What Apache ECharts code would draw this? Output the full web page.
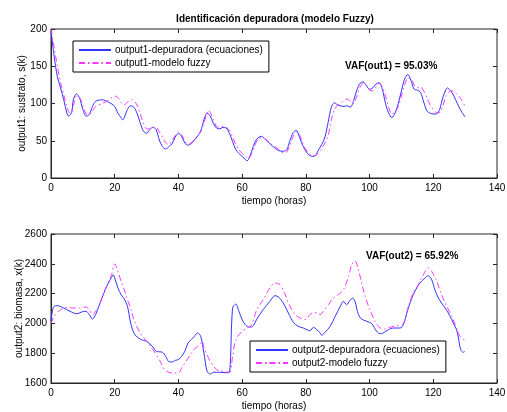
<!DOCTYPE html>
<html>
<head>
<meta charset="utf-8">
<script src="https://cdn.jsdelivr.net/npm/echarts@6/dist/echarts.min.js"></script>
<style>
html,body{margin:0;padding:0;background:#fff;}
#c{width:507px;height:412px;}
</style>
</head>
<body>
<div id="c"></div>
<script>
// ---------- DATA ----------
var title = 'Identificación depuradora (modelo Fuzzy)';
var xName = 'tiempo (horas)';
var y1Name = 'output1: sustrato, s(k)';
var y2Name = 'output2: biomasa, x(k)';
var vaf1 = 'VAF(out1) = 95.03%';
var vaf2 = 'VAF(out2) = 65.92%';
var s1Name = 'output1-depuradora (ecuaciones)';
var s2Name = 'output1-modelo fuzzy';
var s3Name = 'output2-depuradora (ecuaciones)';
var s4Name = 'output2-modelo fuzzy';

var t_s_eq = [0,1,2,3,4,5,5.5,6.5,7,8,9,10,11,12,13,14,16,18,20,21,22,22.5,24,25,26,27,28,29,30,31,32,33,34,35,36,37,38,39,40,41,42,43,44,45,46,47,48,49,50,51,52,53,54,55,56,57,58,59,60,61,61.5,62,63,64,65,66,67,68,69,70,71,72,73,74,75,76,77,78,79,80,81,82,83,84,85,86,87,88,89,90,92,93,94,95,96,97,98,99,100,101,102,103,104,105,106,107,108,109,110,111,112,113,114,115,116,117,118,119,120,121,122,123,124,124.5,125,126,127,128,129,130];
var s_eq = [197,163,136,121,105,87,83,88,105,113,107,92,83,85,96,103,105,102,96,87,81,78,92,97,95,87,74,63,60,65,68,65,51,42,39,42,46,55,60,56,47,44,46,51,56,63,78,87,83,73,67,66,68,67,60,49,38,33,29,25,23,25,36,48,54,56,53,49,45,41,38,36,36,38,50,61,64,55,44,36,31,29,30,38,45,55,75,95,101,98,96,97,95,104,118,127,129,124,119,121,126,128,119,100,87,81,87,100,117,133,139,131,119,118,115,102,90,87,86,86,92,108,119,121,119,114,105,96,88,82];

var t_s_fz = [0,1,2,3,4,5,6,7,8,9,10,11,12,13,14,16,18,20,21,22,23,24,25.5,27,28,29,30,31,32,33,34,35,36,37,38,39,40,41,42,43,44,45,46,47,48,49.5,50,51,52,53,54,55,56,57,58,59,60,61,62,63,64,65,66,67,68,69,70,71,72,73,74,75,76,77,78,79,80,81,82,83,84,85,86,87,88,89,90,91,92,93,94,95,96,97,98,99,100,101,102,103,104,105,106,107,108,109,110,111,112,113,114,115,116,117,118,119,120,121,122,123,124,125,126,127,128,129,130];
var s_fz = [200,175,150,128,112,95,87,97,110,108,97,86,85,90,96,100,104,110,108,101,98,102,105,98,86,74,66,66,68,68,62,55,47,45,50,57,62,58,50,46,47,52,57,62,74,91,88,78,69,68,69,68,64,55,45,38,33,29,26,33,44,52,54,53,50,46,43,40,36,34,35,44,56,62,58,47,38,33,30,30,34,40,47,57,78,92,98,101,104,106,103,100,110,122,127,125,118,117,122,127,122,110,95,86,88,96,110,125,134,133,125,121,122,117,108,98,92,88,88,97,110,116,117,114,110,104,96];

var t_x_eq = [0,0.5,1,2,4,6,8,10,11,12,13,14,15,16,17,18,19,19.5,20,21,22,23,24,25,26,27,28,29,30,32,33,35,36,37,38,39,40,41,42,43,44,45,46,47,48,49,50,51,53,55,56,57,58,59,60,61,62,63,64,64.6,66.6,68.7,70.3,71.4,72.9,74.5,76.1,77.6,79.2,80.8,81.3,82.4,83.4,84.5,85,86,87.6,89.2,90.7,91.8,92.8,93.8,94.7,95.4,96.5,97.5,99.1,100.7,102.2,103.3,104.3,105.9,107.5,109.6,110.6,111.7,112.7,113.7,114.8,115.8,117.4,118.4,119.5,120.5,121.6,122.6,123.7,124.7,125.8,126.8,127.3,127.9,128.6,129.4,129.9];
var x_eq = [2014,2092,2115,2119,2103,2081,2065,2079,2081,2059,2029,2059,2115,2170,2226,2271,2309,2327,2305,2238,2193,2164,2115,2003,1936,1909,1895,1886,1880,1842,1813,1806,1779,1743,1741,1752,1757,1779,1813,1868,1891,1913,1936,1913,1801,1678,1660,1672,1672,1669,1672,2103,2130,2081,2025,1991,1976,1976,2003,2029,2092,2148,2186,2177,2137,2070,2007,1980,1969,1953,1951,1974,1958,1936,1920,1940,1980,2047,2110,2148,2126,2153,2170,2148,2059,2029,2014,1998,1947,1931,1936,1958,1969,1969,1991,2070,2137,2193,2238,2271,2305,2320,2293,2226,2170,2137,2103,2070,2025,1980,1958,1902,1824,1806,1812];

var t_x_fz = [0,1,3,5,7,9,11,12,13,14,15,17,19,20,21,22,23,24,25,26,28,30,32,34,35,36,38,40,41,42,44,45,46,47,47.5,48,49,50,52,54,56,57,58,60,62,63,64.6,66.6,68.7,70.3,71.9,73.5,75,76.6,78.2,79.7,81.3,82.4,83.4,84.5,85.5,87.1,88.6,90.2,91.8,93.4,94.4,95.4,96.5,97.5,98.6,100.1,101.7,103.3,104.8,106.4,108.5,110.6,112.2,113.7,115.3,116.9,118.4,119.5,121.1,122.6,124.2,125.8,127.3,128.4,129.4,130];
var x_fz = [1998,2047,2092,2108,2103,2103,2110,2092,2059,2081,2115,2226,2327,2399,2349,2282,2226,2159,2103,2025,1936,1880,1824,1757,1712,1683,1667,1667,1700,1734,1797,1828,1846,1864,1880,1835,1790,1745,1690,1678,1672,1779,1891,1947,1974,1991,2092,2159,2238,2271,2260,2193,2115,2059,2036,2025,2059,2074,2070,2059,2081,2126,2170,2193,2226,2316,2394,2421,2361,2271,2182,2092,2014,1969,1962,1974,1985,1998,2115,2204,2260,2327,2372,2349,2282,2193,2115,2047,1969,1913,1895,1880];

var xTicks = {min:0, max:140, interval:20};
var y1Ticks = {min:0, max:200, interval:50};
var y2Ticks = {min:1600, max:2600, interval:200};

// ---------- CHART ----------
function zip(a,b){ return a.map(function(v,i){ return [v,b[i]]; }); }
var FONT = 'Liberation Sans, Arial, sans-serif';
var AX = '#262626';
var BLUE = '#3333ff';
var MAG = '#ff33ff';
var DASHDOT = [6,3,1.5,3];
function plain(v){ return String(v); }

function xAx(gi, main){
  return {
    type:'value', gridIndex:gi, min:xTicks.min, max:xTicks.max, interval:xTicks.interval,
    position: main ? 'bottom' : 'top',
    name: main ? xName : '', nameLocation:'middle', nameGap:18, nameMoveOverlap:false,
    nameTextStyle:{color:'#000', fontFamily:FONT, fontSize:10},
    axisLine:{show:main, onZero:false, lineStyle:{color:AX}},
    axisTick:{show:true, inside:true, length:4, lineStyle:{color:AX}},
    axisLabel:{show:main, color:'#000', fontFamily:FONT, fontSize:10, margin:5, formatter:plain},
    splitLine:{show:false}
  };
}
function yAx(gi, main, tk, nm, gap){
  return {
    type:'value', gridIndex:gi, min:tk.min, max:tk.max, interval:tk.interval,
    position: main ? 'left' : 'right',
    name: main ? nm : '', nameLocation:'middle', nameGap:gap, nameMoveOverlap:false,
    nameTextStyle:{color:'#000', fontFamily:FONT, fontSize:10},
    axisLine:{show:main, onZero:false, lineStyle:{color:AX}},
    axisTick:{show:true, inside:true, length:4, lineStyle:{color:AX}},
    axisLabel:{show:main, color:'#000', fontFamily:FONT, fontSize:10, margin:4, formatter:plain},
    splitLine:{show:false}
  };
}
function legendBox(names, left, top, w){
  return {
    data:names, orient:'vertical', left:left, top:top,
    width:w,
    backgroundColor:'#fff', borderColor:'#000', borderWidth:1,
    padding:[4,6,4,5], itemGap:3, itemWidth:32, itemHeight:10,
    itemStyle:{opacity:0},
    textStyle:{color:'#000', fontFamily:FONT, fontSize:10, padding:[0,0,0,-1]},
    selectedMode:false
  };
}
function line(name, xi, yi, data, color, dash){
  return {
    name:name, type:'line', xAxisIndex:xi, yAxisIndex:yi, data:data,
    symbol:'none', smooth:0.3, animation:false, z: dash ? 3 : 2,
    lineStyle:{color:color, width:1, type: dash ? DASHDOT : 'solid'},
    itemStyle:{color:color}
  };
}

var chart = echarts.init(document.getElementById('c'), null, {renderer:'canvas'});
chart.setOption({
  backgroundColor:'#fff',
  animation:false,
  title:[
    {text:title, left:270, top:9, textAlign:'center', textStyle:{fontFamily:FONT, fontSize:10, fontWeight:'bold', color:'#000'}},
    {text:vaf1, left:340, top:56, textStyle:{fontFamily:FONT, fontSize:10, fontWeight:'bold', color:'#000'}},
    {text:vaf2, left:361, top:246, textStyle:{fontFamily:FONT, fontSize:10, fontWeight:'bold', color:'#000'}}
  ],
  grid:[
    {left:51, top:29, width:446, height:149, show:true, borderColor:AX, borderWidth:1, backgroundColor:'#fff', containLabel:false, outerBoundsMode:'none'},
    {left:51, top:234, width:446, height:149, show:true, borderColor:AX, borderWidth:1, backgroundColor:'#fff', containLabel:false, outerBoundsMode:'none'}
  ],
  legend:[
    legendBox([s1Name, s2Name], 73, 41, 197),
    legendBox([s3Name, s4Name], 250, 341, 198)
  ],
  xAxis:[xAx(0,true), xAx(0,false), xAx(1,true), xAx(1,false)],
  yAxis:[yAx(0,true,y1Ticks,y1Name,24), yAx(0,false,y1Ticks,'',0), yAx(1,true,y2Ticks,y2Name,27), yAx(1,false,y2Ticks,'',0)],
  series:[
    line(s1Name, 0, 0, zip(t_s_eq, s_eq), BLUE, false),
    line(s2Name, 0, 0, zip(t_s_fz, s_fz), MAG, true),
    line(s3Name, 2, 2, zip(t_x_eq, x_eq), BLUE, false),
    line(s4Name, 2, 2, zip(t_x_fz, x_fz), MAG, true)
  ]
});
</script>
</body>
</html>
